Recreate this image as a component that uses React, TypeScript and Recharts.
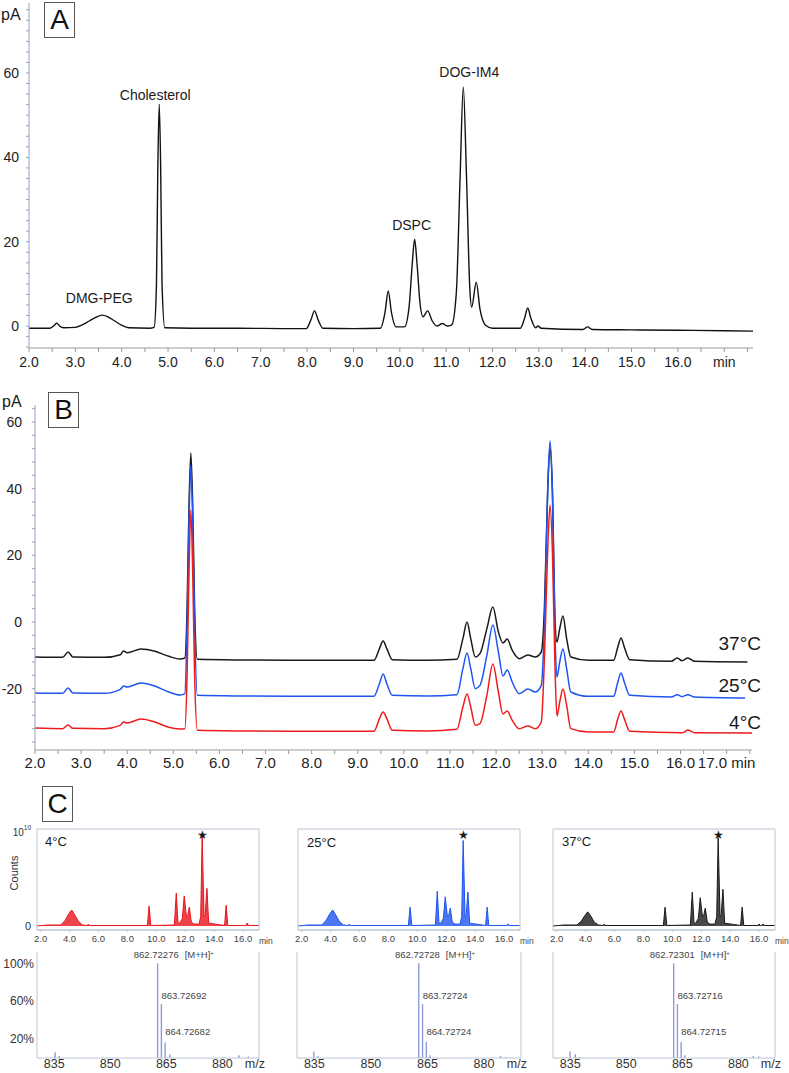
import React from "react";
import {
  LineChart,
  Line,
  AreaChart,
  Area,
  ComposedChart,
  Bar,
  XAxis,
  YAxis,
  ReferenceDot,
  ReferenceArea,
  ReferenceLine,
} from "recharts";

const FONT = '"Liberation Sans", Arial, sans-serif';

// ---- Panel A: CAD trace (min, pA)
const aTime = [
  2.0, 2.45, 2.55, 2.6, 2.66, 2.75, 3.0, 3.15, 3.3, 3.45, 3.58, 3.7, 3.85, 4.0, 4.15, 4.6, 4.7, 4.75, 4.78,
  4.81, 4.84, 4.87, 4.93, 5.5, 6.5, 7.5, 7.98, 8.08, 8.16, 8.24, 8.34, 9.0, 9.58, 9.68, 9.75, 9.82, 9.92,
  10.1, 10.2, 10.27, 10.32, 10.37, 10.44, 10.5, 10.6, 10.7, 10.8, 10.92, 11.02, 11.12, 11.22, 11.3, 11.37,
  11.44, 11.51, 11.55, 11.65, 11.73, 11.85, 12.0, 12.6, 12.69, 12.76, 12.83, 12.93, 12.98, 13.05, 13.95,
  14.05, 14.15, 15.0, 16.0, 17.0, 17.62,
];
const aSignal = [
  -0.5, -0.5, 0.2, 0.7, 0.0, -0.4, -0.3, 0.3, 1.2, 2.1, 2.6, 2.2, 1.2, 0.2, -0.4, -0.5, -0.3, 10, 38,
  52.6, 38, 10, -0.4, -0.5, -0.5, -0.6, -0.6, 1.4, 3.6, 1.4, -0.5, -0.6, -0.5, 3.2, 8.3, 3.2, -0.2,
  -0.2, 4.5, 15, 20.6, 15, 5, 2.2, 3.6, 1.2, 0, 0.6, 0, 0.3, 8, 35, 56.7,
  35, 9, 4.5, 10.4, 4, 0.2, -0.5, -0.5, 1.8, 4.3, 1.8, -0.4, 0, -0.5, -0.8,
  -0.2, -0.8, -0.9, -1.0, -1.1, -1.2,
];
const aXTicks = [
  2, 2.5, 3, 3.5, 4, 4.5, 5, 5.5, 6, 6.5, 7, 7.5, 8, 8.5, 9, 9.5, 10, 10.5, 11, 11.5, 12, 12.5, 13, 13.5,
  14, 14.5, 15, 15.5, 16, 16.5, 17, 17.5,
];
const aYTicks = [
  -5, -2.5, 0, 2.5, 5, 7.5, 10, 12.5, 15, 17.5, 20, 22.5, 25, 27.5, 30, 32.5, 35, 37.5, 40, 42.5, 45, 47.5,
  50, 52.5, 55, 57.5, 60, 62.5, 65, 67.5, 70, 72.5, 75,
];
const aPeakNames = ["DMG-PEG", "Cholesterol", "DSPC", "DOG-IM4"];
const aPeakTimes = [3.58, 4.81, 10.32, 11.37];
const aPeakHeights = [2.6, 52.6, 20.6, 56.7];

// ---- Panel B: stability traces at three temperatures
const bTime37 = [
  2.0, 2.6, 2.72, 2.82, 3.5, 3.85, 3.92, 4.0, 4.3, 4.6, 4.9, 5.15, 5.25, 5.3, 5.34, 5.38, 5.42, 5.46, 5.52,
  6.5, 8.0, 9.35, 9.47, 9.55, 9.63, 9.75, 10.5, 11.15, 11.28, 11.37, 11.45, 11.55, 11.65, 11.8, 11.93,
  12.05, 12.15, 12.24, 12.35, 12.5, 12.69, 12.85, 12.98, 13.05, 13.12, 13.17, 13.22, 13.28, 13.32, 13.38,
  13.45, 13.53, 13.62, 14.0, 14.55, 14.64, 14.71, 14.78, 14.9, 15.8, 15.93, 16.03, 16.16, 16.3, 17.45,
];
const bSignal37 = [
  -10.5, -10.6, -9.0, -10.5, -10.6, -9.8, -8.7, -9.2, -8.1, -8.8, -10.3, -11.1, -10.8, 5, 35, 50.7, 35, 5, -11.2,
  -11.4, -11.5, -11.5, -8, -5.7, -8, -11.3, -11.5, -11.2, -5, 0, -5, -10.5, -9.5, -2, 4.5,
  -3, -6.3, -5.1, -8.5, -11, -9.9, -10.5, -9, 5, 40, 52.2, 40, 0, -6, -2,
  1.8, -5, -10.5, -11.5, -11.5, -7.5, -4.8, -7.5, -11.3, -11.8, -10.8, -11.6, -10.8, -11.8, -12,
];
const bTime25 = [
  2.0, 2.6, 2.72, 2.82, 3.5, 3.85, 3.92, 4.0, 4.3, 4.6, 4.9, 5.15, 5.25, 5.3, 5.34, 5.38, 5.42, 5.46, 5.52,
  6.5, 8.0, 9.35, 9.47, 9.55, 9.63, 9.75, 10.5, 11.15, 11.28, 11.37, 11.45, 11.55, 11.65, 11.8, 11.93,
  12.05, 12.15, 12.24, 12.35, 12.5, 12.69, 12.85, 12.98, 13.05, 13.12, 13.17, 13.22, 13.28, 13.32, 13.38,
  13.45, 13.53, 13.62, 14.0, 14.55, 14.64, 14.71, 14.78, 14.9, 15.8, 15.93, 16.03, 16.16, 16.3, 17.4,
];
const bSignal25 = [
  -21.3, -21.4, -19.8, -21.3, -21.4, -20.2, -19.2, -19.5, -18.3, -19.2, -21.0, -21.9, -21.5, 0, 30, 47, 30, 0, -22,
  -22.2, -22.3, -22.3, -18.5, -15.6, -18.5, -22, -22.2, -21.8, -14, -9.3, -14, -20, -19, -10, -0.9,
  -9, -16.2, -14.4, -18, -21.5, -20.1, -21, -19, 0, 40, 54.3, 40, -5, -16.5, -12,
  -8.1, -14, -21, -22.3, -22.3, -18, -15.3, -18, -22, -22.5, -21.8, -22.4, -21.8, -22.5, -22.8,
];
const bTime4 = [
  2.0, 2.6, 2.72, 2.82, 3.5, 3.85, 3.92, 4.0, 4.3, 4.6, 4.9, 5.15, 5.25, 5.3, 5.34, 5.38, 5.42, 5.46, 5.52,
  6.5, 8.0, 9.35, 9.47, 9.55, 9.63, 9.75, 10.5, 11.15, 11.28, 11.37, 11.45, 11.55, 11.65, 11.8, 11.93,
  12.05, 12.15, 12.24, 12.35, 12.5, 12.69, 12.85, 12.98, 13.05, 13.12, 13.17, 13.22, 13.28, 13.32, 13.38,
  13.45, 13.53, 13.62, 14.0, 14.55, 14.64, 14.71, 14.78, 14.9, 16.05, 16.16, 16.3, 17.55,
];
const bSignal4 = [
  -31.8, -32.0, -30.9, -31.9, -32.0, -31, -30, -30.3, -29.1, -30, -31.6, -32.1, -32, -15, 15, 33.6, 15, -15, -32.5,
  -32.7, -32.8, -32.8, -29, -27, -29, -32.5, -32.7, -32.2, -25.5, -21.6, -25.5, -31, -30.5, -22, -12.6,
  -21, -27.6, -26.7, -29.5, -32, -31.2, -32, -30, -10, 22, 35, 22, -15, -28.2, -24,
  -20.1, -25, -32, -33, -33, -29, -26.7, -29, -32.8, -33.2, -32.4, -33.2, -33.3,
];
const bSeriesNames = ["37°C", "25°C", "4°C"];
const bXTicks = aXTicks;
const bYTicks = [
  -36, -32, -28, -24, -20, -16, -12, -8, -4, 0, 4, 8, 12, 16, 20, 24, 28, 32, 36, 40, 44, 48, 52, 56, 60, 64,
];

// ---- Panel C: LC-MS total ion chromatograms (x10^10 counts) and spectra
const cTime = [
  1.75, 2.5, 3.4, 3.7, 3.95, 4.15, 4.35, 4.6, 4.9, 5.22, 5.3, 5.38, 9.38, 9.5, 9.62, 11.25, 11.38, 11.5,
  11.62, 11.8, 11.93, 12.08, 12.18, 12.28, 12.42, 12.6, 12.95, 13.07, 13.17, 13.3, 13.38, 13.5, 13.62,
  14.72, 14.83, 14.94, 15.9, 16.0, 16.1, 16.18, 16.28, 16.38, 17.1,
];
const cCounts4 = [
  0, 0.01, 0.01, 0.06, 0.13, 0.17, 0.12, 0.05, 0.01, 0.005, 0.02, 0.005, 0.005, 0.21, 0.005, 0.01, 0.35, 0.03,
  0.03, 0.08, 0.32, 0.1, 0.12, 0.2, 0.04, 0.02, 0.02, 0.1, 0.95, 0.1, 0.12, 0.4, 0.03,
  0.005, 0.22, 0.005, 0.005, 0.005, 0.005, 0.005, 0.03, 0.005, 0.005,
];
const cCounts25 = [
  0, 0.01, 0.01, 0.06, 0.13, 0.17, 0.12, 0.05, 0.01, 0.005, 0.02, 0.005, 0.005, 0.2, 0.005, 0.01, 0.37, 0.03,
  0.03, 0.08, 0.31, 0.1, 0.12, 0.19, 0.04, 0.02, 0.02, 0.1, 0.91, 0.1, 0.12, 0.36, 0.03,
  0.005, 0.2, 0.005, 0.005, 0.005, 0.005, 0.005, 0.02, 0.005, 0.005,
];
const cCounts37 = [
  0, 0.01, 0.01, 0.05, 0.11, 0.15, 0.11, 0.04, 0.01, 0.005, 0.02, 0.005, 0.005, 0.2, 0.005, 0.01, 0.36, 0.03,
  0.03, 0.08, 0.3, 0.1, 0.12, 0.19, 0.04, 0.02, 0.02, 0.1, 0.94, 0.1, 0.12, 0.39, 0.03,
  0.005, 0.2, 0.005, 0.005, 0.02, 0.005, 0.005, 0.02, 0.005, 0.005,
];
const cXTicks = [2, 4, 6, 8, 10, 12, 14, 16];
const cStarTime = 13.17;
const cStarLevel = 0.97;

const msMz4 = [835.3, 836.4, 862.72276, 863.72692, 864.72682, 866.0, 884.5, 887.0];
const msInt4 = [6, 2, 100, 57, 16.5, 4, 3, 1.5];
const msMz25 = [834.9, 836.0, 862.72728, 863.72724, 864.72724, 865.7, 884.4, 886.0];
const msInt25 = [7, 2, 100, 57, 17, 3, 2, 1];
const msMz37 = [835.0, 836.4, 837.5, 862.72301, 863.72716, 864.72715, 865.7, 884.0, 885.5];
const msInt37 = [7, 4, 1, 100, 57, 17, 3, 2, 1.5];
const msLabels4 = ["862.72276", "863.72692", "864.72682"];
const msLabels25 = ["862.72728", "863.72724", "864.72724"];
const msLabels37 = ["862.72301", "863.72716", "864.72715"];
const msXTicks = [835, 850, 865, 880, 888.7];
const msYTicks = [20, 60, 100];

const toPts = (xs: number[], ys: number[], k = "v") => xs.map((t, i) => ({ t, [k]: ys[i] }));
const aData = toPts(aTime, aSignal);
const bData = [toPts(bTime37, bSignal37), toPts(bTime25, bSignal25), toPts(bTime4, bSignal4)];
const cData = cTime.map((t, i) => ({ t, c4: cCounts4[i], c25: cCounts25[i], c37: cCounts37[i] }));
const msData = [
  msMz4.map((mz, i) => ({ mz, int: msInt4[i] })),
  msMz25.map((mz, i) => ({ mz, int: msInt25[i] })),
  msMz37.map((mz, i) => ({ mz, int: msInt37[i] })),
];

const fmtMin = (v: number) => (Number.isInteger(v) && v <= 16 ? v.toFixed(1) : "");
const fmt20 = (v: number) => (v % 20 === 0 ? String(v) : "");

const textShape = (label: string, dx: number, dy: number, size = 14) => (p: any) =>
  (
    <text x={p.cx + dx} y={p.cy + dy} textAnchor="middle" dominantBaseline="central" fontSize={size} fontFamily={FONT} fill="#1a1a1a">
      {label}
    </text>
  );

const Txt = ({ x, y, size, children, right }: any) => (
  <div
    style={{
      position: "absolute",
      left: right ? undefined : x,
      right: right ? 789 - x : undefined,
      top: y,
      transform: "translateY(-50%)",
      fontSize: size,
      lineHeight: 1,
      color: "#1a1a1a",
      whiteSpace: "nowrap",
    }}
  >
    {children}
  </div>
);

const Box = ({ x, y, label }: any) => (
  <div
    style={{
      position: "absolute",
      left: x,
      top: y,
      width: 31,
      height: 36,
      boxSizing: "border-box",
      border: "1.5px solid #555",
      fontSize: 28,
      lineHeight: "34px",
      textAlign: "center",
      color: "#111",
    }}
  >
    {label}
  </div>
);

const countsTick = (p: any) => {
  const v = p.payload.value;
  return v === 1 ? (
    <text x={p.x} y={p.y} textAnchor="end" dominantBaseline="central" fontSize={10} fontFamily={FONT} fill="#333">
      10<tspan dy={-5} fontSize={6.5}>10</tspan>
    </text>
  ) : (
    <text x={p.x} y={p.y} textAnchor="end" dominantBaseline="central" fontSize={11} fontFamily={FONT} fill="#333">
      {v}
    </text>
  );
};

const mainMsLabel = (num: string) => (p: any) =>
  (
    <text x={p.cx - 24} y={p.cy - 5} fontSize={9.5} fontFamily={FONT} fill="#444">
      {num}
      <tspan dx={6}>[M+H]</tspan>
      <tspan dy={-3} fontSize={6}>+</tspan>
    </text>
  );
const sideMsLabel = (num: string, dy: number) => (p: any) =>
  (
    <text x={p.cx} y={p.cy + dy} fontSize={9.5} fontFamily={FONT} fill="#444">
      {num}
    </text>
  );

const C_COLORS = ["#e8141c", "#1f55f0", "#1a1a1a"];
const C_KEYS = ["c4", "c25", "c37"];
const C_PLOT_LEFT = [37, 298, 553];
const MS_PLOT_LEFT = [37, 297, 553];
const C_TEMPS = ["4°C", "25°C", "37°C"];
const MS_LABELS = [msLabels4, msLabels25, msLabels37];
const FRAME = "#bcc6d6";
const PAD = 12;

export default function App() {
  const tickA = { fontSize: 14, fill: "#222", fontFamily: FONT };
  const tickB = { fontSize: 15, fill: "#222", fontFamily: FONT };
  const bColors = ["#1a1a1a", "#1f55f0", "#ee1c1c"];
  return (
    <div
      style={{
        position: "absolute",
        left: 0,
        top: 0,
        width: 789,
        height: 1073,
        background: "#fff",
        fontFamily: FONT,
        overflow: "hidden",
      }}
    >
      {/* ---------- Panel A ---------- */}
      <div style={{ position: "absolute", left: 0, top: 0 }}>
        <LineChart width={760} height={372} margin={{ top: 3, right: 7, bottom: 0, left: 0 }}>
          <XAxis
            dataKey="t"
            type="number"
            domain={[2, 17.62]}
            ticks={aXTicks}
            interval={0}
            tickFormatter={(v: number) => (v === 17 ? "min" : fmtMin(v))}
            stroke="#9a9a9a"
            tickSize={4}
            tickMargin={5}
            height={24}
            tick={tickA}
            allowDataOverflow
          />
          <YAxis
            type="number"
            domain={[-5.2, 76.6]}
            ticks={aYTicks}
            interval={0}
            tickFormatter={fmt20}
            width={29}
            stroke="#93a3b8"
            tickSize={3}
            tickMargin={7}
            tick={tickA}
            allowDataOverflow
          />
          <Line data={aData} dataKey="v" type="monotone" stroke="#111" strokeWidth={1.4} dot={false} activeDot={false} isAnimationActive={false} />
          {aPeakNames.map((name, i) => {
            const nudge = [
              [-3, -17],
              [-4, -9],
              [-3, -14],
              [6, -15],
            ][i];
            return (
              <ReferenceDot
                key={name}
                x={aPeakTimes[i]}
                y={aPeakHeights[i]}
                r={0}
                shape={textShape(name, nudge[0], nudge[1], 14)}
              />
            );
          })}
        </LineChart>
      </div>
      <Txt x={1} y={15} size={16}>pA</Txt>
      <Box x={44} y={2} label="A" />

      {/* ---------- Panel B ---------- */}
      <div style={{ position: "absolute", left: 0, top: 400 }}>
        <LineChart width={760} height={375} margin={{ top: 5, right: 8, bottom: 0, left: 0 }}>
          <XAxis
            dataKey="t"
            type="number"
            domain={[2, 17.55]}
            ticks={bXTicks}
            interval={0}
            tickFormatter={(v: number) => (v === 17 ? "17.0 min" : fmtMin(v))}
            stroke="#9a9a9a"
            tickSize={4}
            tickMargin={3}
            height={25}
            tick={tickB}
            allowDataOverflow
          />
          <YAxis
            type="number"
            domain={[-38.4, 65.1]}
            ticks={bYTicks}
            interval={0}
            tickFormatter={fmt20}
            width={35}
            stroke="#93a3b8"
            tickSize={3}
            tickMargin={10}
            tick={tickA}
            allowDataOverflow
          />
          {bData.map((d, i) => (
            <Line
              key={bSeriesNames[i]}
              data={d}
              dataKey="v"
              name={bSeriesNames[i]}
              type="monotone"
              stroke={bColors[i]}
              strokeWidth={1.5}
              dot={false}
              activeDot={false}
              isAnimationActive={false}
            />
          ))}
        </LineChart>
      </div>
      <Txt x={2} y={402} size={16}>pA</Txt>
      <Box x={48} y={392} label="B" />
      <Txt x={761} y={643} size={19} right>{bSeriesNames[0]}</Txt>
      <Txt x={761} y={685} size={19} right>{bSeriesNames[1]}</Txt>
      <Txt x={761} y={722} size={19} right>{bSeriesNames[2]}</Txt>

      {/* ---------- Panel C ---------- */}
      <Box x={42} y={786} label="C" />
      {C_KEYS.map((key, i) => {
        const first = i === 0;
        const yw = first ? 37 : 0;
        return (
          <div key={key} style={{ position: "absolute", left: C_PLOT_LEFT[i] - yw - PAD, top: 816 }}>
            <AreaChart
              width={PAD + yw + 222 + 24}
              height={136}
              data={cData}
              margin={{ top: 13, right: 24, bottom: 0, left: PAD }}
            >
              <XAxis
                dataKey="t"
                type="number"
                domain={[1.75, 17.1]}
                ticks={cXTicks}
                interval={0}
                tickFormatter={(v: number) => v.toFixed(1)}
                stroke={FRAME}
                tickSize={2}
                tickMargin={3}
                height={22}
                tick={{ fontSize: 9.5, fill: "#444", fontFamily: FONT }}
                label={{ value: "min", position: "right", offset: 0, fontSize: 8.5, fill: "#444" }}
                allowDataOverflow
              />
              <YAxis
                type="number"
                domain={[-0.043, 1.032]}
                ticks={[0, 1]}
                interval={0}
                width={37}
                hide={!first}
                axisLine={false}
                tickLine={false}
                tickSize={0}
                tickMargin={6}
                tick={countsTick}
                allowDataOverflow
              />
              <Area
                dataKey={key}
                type="linear"
                baseValue={0}
                stroke={C_COLORS[i]}
                strokeWidth={1}
                fill={C_COLORS[i]}
                fillOpacity={0.8}
                dot={false}
                activeDot={false}
                isAnimationActive={false}
              />
              <ReferenceArea x1={1.75} x2={17.1} y1={-0.043} y2={1.032} fill="none" stroke={FRAME} strokeWidth={1} />
              <ReferenceDot x={cStarTime} y={cStarLevel} r={0} shape={textShape("★", 0, 0, 12)} />
            </AreaChart>
          </div>
        );
      })}
      <Txt x={45} y={841} size={13}>{C_TEMPS[0]}</Txt>
      <Txt x={307} y={842} size={13}>{C_TEMPS[1]}</Txt>
      <Txt x={562} y={841} size={13}>{C_TEMPS[2]}</Txt>
      <div
        style={{
          position: "absolute",
          left: 14,
          top: 873,
          transform: "translate(-50%, -50%) rotate(-90deg)",
          fontSize: 11,
          color: "#333",
          whiteSpace: "nowrap",
        }}
      >
        Counts
      </div>

      {msData.map((d, i) => {
        const first = i === 0;
        const yw = first ? 37 : 0;
        const labels = MS_LABELS[i];
        const main = d.find((p) => p.int === 100)!;
        const idx = d.indexOf(main);
        const second = d[idx + 1];
        const third = d[idx + 2];
        const plotW = i === 1 ? 224 : 222;
        return (
          <div key={i} style={{ position: "absolute", left: MS_PLOT_LEFT[i] - yw - PAD, top: 948 }}>
            <ComposedChart
              width={PAD + yw + plotW + 14}
              height={124}
              data={d}
              margin={{ top: 4, right: 14, bottom: 0, left: PAD }}
            >
              <XAxis
                dataKey="mz"
                type="number"
                domain={[830.4, 889.8]}
                ticks={msXTicks}
                interval={0}
                tickFormatter={(v: number) => (v > 885 ? "m/z" : String(v))}
                stroke={FRAME}
                tickLine={false}
                tickSize={0}
                tickMargin={1}
                height={14}
                tick={{ fontSize: 12.5, fill: "#333", fontFamily: FONT }}
                allowDataOverflow
              />
              <YAxis
                type="number"
                domain={[0, 112]}
                ticks={msYTicks}
                interval={0}
                tickFormatter={(v: number) => `${v}%`}
                width={37}
                hide={!first}
                axisLine={false}
                tickLine={false}
                tickSize={0}
                tickMargin={3}
                tick={{ fontSize: 12, fill: "#333", fontFamily: FONT }}
                allowDataOverflow
              />
              <ReferenceLine x={830.4} stroke={FRAME} />
              <ReferenceLine x={889.8} stroke={FRAME} />
              <Bar dataKey="int" barSize={1.4} fill="#8f9bd8" isAnimationActive={false} />
              <ReferenceDot x={main.mz} y={main.int} r={0} shape={mainMsLabel(labels[0])} />
              <ReferenceDot x={second.mz} y={second.int} r={0} shape={sideMsLabel(labels[1], -5)} />
              <ReferenceDot x={third.mz} y={third.int} r={0} shape={sideMsLabel(labels[2], -7)} />
            </ComposedChart>
          </div>
        );
      })}
    </div>
  );
}
